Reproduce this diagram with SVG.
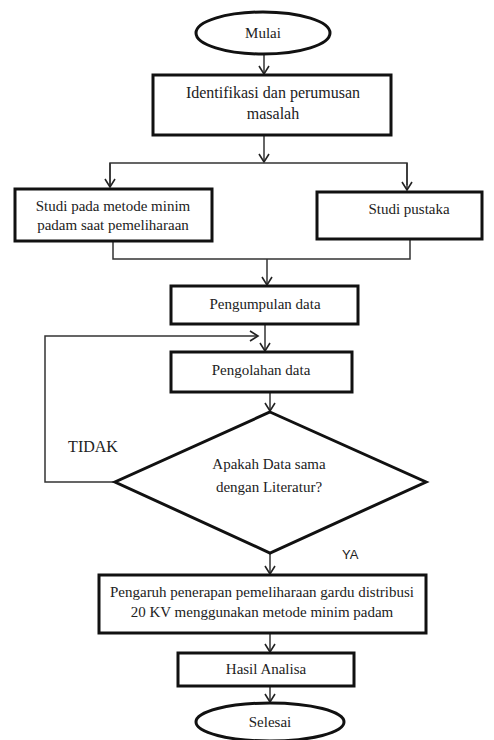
<svg xmlns="http://www.w3.org/2000/svg" width="494" height="740" viewBox="0 0 494 740">
<defs>
<style>
.box{fill:#fff;stroke:#111;stroke-width:3}
.t{font-family:"Liberation Serif","Times New Roman",serif;font-size:15px;fill:#222;text-anchor:middle}
.s{font-family:"Liberation Sans",Arial,sans-serif;font-size:13px;fill:#222}
.c{fill:none;stroke:#333;stroke-width:1.5}
</style>
<marker id="arr" markerWidth="12" markerHeight="12" refX="10" refY="6" orient="auto" markerUnits="userSpaceOnUse">
<path d="M2,1 L10,6 L2,11" fill="none" stroke="#222" stroke-width="1.6"/>
</marker>
</defs>
<rect width="494" height="740" fill="#fff"/>
<g id="connectors">
<line class="c" x1="264" y1="55" x2="264" y2="74" marker-end="url(#arr)"/>
<line class="c" x1="264" y1="136" x2="264" y2="162" marker-end="url(#arr)"/>
<polyline class="c" points="110,185 110,163 407,163 407,185"/>
<line class="c" x1="110" y1="163" x2="110" y2="187" marker-end="url(#arr)"/>
<line class="c" x1="407" y1="163" x2="407" y2="190" marker-end="url(#arr)"/>
<polyline class="c" points="113,242 113,259 410,259 410,240"/>
<line class="c" x1="267" y1="259" x2="267" y2="285" marker-end="url(#arr)"/>
<line class="c" x1="265" y1="325" x2="265" y2="351" marker-end="url(#arr)"/>
<polyline class="c" points="115,482 45,482 45,336 258,336" marker-end="url(#arr)"/>
<line class="c" x1="270" y1="393" x2="270" y2="411" marker-end="url(#arr)"/>
<line class="c" x1="270" y1="554" x2="270" y2="574" marker-end="url(#arr)"/>
<line class="c" x1="270" y1="634" x2="270" y2="652" marker-end="url(#arr)"/>
<line class="c" x1="270" y1="687" x2="270" y2="702" marker-end="url(#arr)"/>
</g>
<g id="mulai">
<ellipse class="box" cx="263" cy="33" rx="67" ry="21"/>
<text class="t" x="263" y="38">Mulai</text>
</g>
<g id="identifikasi">
<rect class="box" x="153" y="75" width="238" height="60"/>
<text class="t" x="273" y="98" style="font-size:16px">Identifikasi dan perumusan</text>
<text class="t" x="273" y="119" style="font-size:16px">masalah</text>
</g>
<g id="studi-metode">
<rect class="box" x="15" y="189" width="197" height="52"/>
<text class="t" x="113" y="211">Studi pada metode minim</text>
<text class="t" x="113" y="230">padam saat pemeliharaan</text>
</g>
<g id="studi-pustaka">
<rect class="box" x="317" y="192" width="165" height="47"/>
<text class="t" x="409" y="214">Studi pustaka</text>
</g>
<g id="pengumpulan">
<rect class="box" x="171" y="286" width="187" height="38"/>
<text class="t" x="265" y="309">Pengumpulan data</text>
</g>
<g id="pengolahan">
<rect class="box" x="171" y="352" width="181" height="40"/>
<text class="t" x="261" y="375">Pengolahan data</text>
</g>
<g id="keputusan">
<polygon class="box" points="270,412 426,482 270,553 115,482"/>
<text class="t" x="269" y="469">Apakah Data sama</text>
<text class="t" x="269" y="492">dengan Literatur?</text>
</g>
<text class="t" x="93" y="452" style="font-size:16px">TIDAK</text>
<text class="s" x="342" y="559">YA</text>
<g id="pengaruh">
<rect class="box" x="99" y="575" width="327" height="58"/>
<text class="t" x="262" y="597">Pengaruh penerapan pemeliharaan gardu distribusi</text>
<text class="t" x="262" y="617">20 KV menggunakan metode minim padam</text>
</g>
<g id="hasil">
<rect class="box" x="178" y="653" width="176" height="33"/>
<text class="t" x="266" y="674">Hasil Analisa</text>
</g>
<g id="selesai">
<ellipse class="box" cx="270" cy="722" rx="74" ry="19"/>
<text class="t" x="270" y="727">Selesai</text>
</g>
</svg>
